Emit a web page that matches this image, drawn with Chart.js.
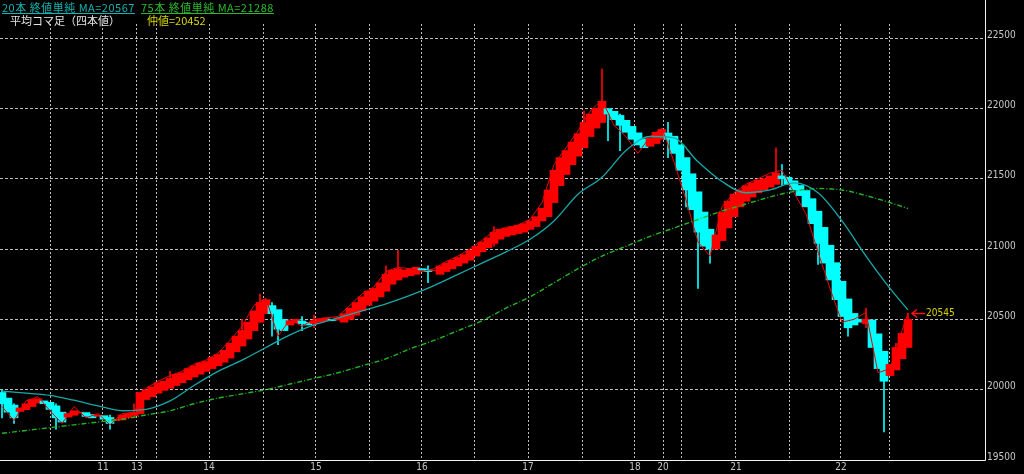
<!DOCTYPE html>
<html>
<head>
<meta charset="utf-8">
<script src="https://cdn.jsdelivr.net/npm/chart.js@4.4.0/dist/chart.umd.min.js"></script>
<style>
html, body { margin: 0; padding: 0; background: #000; }
#wrap { position: relative; width: 1024px; height: 474px; overflow: hidden; }
canvas { display: block; }
.hd { position: absolute; font-family: "Noto Sans CJK JP"; font-size: 11px; line-height: 12px; white-space: nowrap; }
</style>
</head>
<body>
<div id="wrap">
  <canvas id="chart" width="1024" height="474"></canvas>
  <div class="hd" id="hdMa20" style="left:2px;top:1px;color:#12b4b4;text-decoration:underline;letter-spacing:0.5px"></div>
  <div class="hd" id="hdMa75" style="left:141px;top:1px;color:#2cba2c;text-decoration:underline;letter-spacing:0.5px"></div>
  <div class="hd" style="left:10px;top:14px;color:#e4e4e4">平均コマ足（四本値）</div>
  <div class="hd" id="hdMid" style="left:147px;top:14px;color:#d8d800"></div>
</div>
<script>
// heikin-ashi bodies, one per bar
var haOpen = [
  19980,19940,19890,19845,19858,19880,19905,19920,19910,19885,
  19840,19805,19818,19834,19837,19823,19811,19815,19802,19781,
  19785,19802,19816,19828,19930,19950,19975,19995,20010,20030,
  20050,20070,20090,20110,20130,20150,20170,20195,20225,20270,
  20310,20360,20420,20480,20540,20598,20569,20500,20460,20475,
  20488,20479,20470,20480,20490,20500,20495,20480,20500,20530,
  20560,20600,20630,20660,20700,20750,20780,20800,20810,20820,
  20860,20855,20847,20820,20840,20860,20880,20900,20920,20950,
  20980,21010,21040,21070,21090,21100,21110,21120,21140,21160,
  21200,21230,21330,21450,21530,21600,21660,21720,21800,21860,
  21900,21998,21979,21950,21915,21872,21826,21783,21730,21750,
  21780,21825,21802,21741,21650,21535,21407,21263,21141,21000,
  21060,21150,21230,21300,21340,21370,21400,21420,21440,21460,
  21520,21510,21485,21452,21416,21358,21269,21154,21027,20903,
  20771,20645,20542,20501,20470,20495,20397,20273,20100,20140,
  20220,20300
];
var haClose = [
  19900,19840,19800,19870,19900,19930,19935,19900,19860,19800,
  19770,19830,19850,19840,19810,19800,19820,19790,19760,19790,
  19820,19830,19840,19980,20000,20020,20050,20060,20080,20110,
  20120,20150,20170,20190,20200,20230,20250,20280,20330,20380,
  20420,20480,20560,20620,20640,20540,20430,20420,20490,20500,
  20470,20460,20490,20500,20510,20490,20510,20540,20580,20620,
  20660,20700,20720,20760,20820,20850,20860,20850,20860,20870,
  20850,20840,20850,20880,20900,20920,20940,20960,20990,21020,
  21050,21080,21120,21140,21150,21160,21170,21180,21200,21230,
  21290,21420,21560,21650,21700,21760,21820,21900,21960,22000,
  22050,21960,21920,21880,21830,21780,21740,21720,21790,21830,
  21850,21780,21680,21560,21420,21280,21120,21020,21000,21100,
  21260,21340,21390,21420,21450,21470,21490,21500,21520,21540,
  21500,21460,21420,21380,21300,21180,21040,20900,20780,20640,
  20520,20440,20460,20480,20500,20300,20150,20060,20180,20300,
  20400,20500
];

// visible wicks (bar index, low, high)
var wickIdx  = [0,2,9,18,22,28,40,43,45,46,50,52,64,66,71,82,97,100,101,103,111,114,116,118,129,130,136,141,144,147,149,151];
var wickLow  = [19800,19760,19720,19720,19800,20040,20320,20480,20380,20320,20420,20440,20720,20780,20760,21020,21740,21900,21770,21700,21650,21300,20720,20900,21480,21450,20890,20380,20440,19700,20150,20450];
var wickHigh = [20000,19900,19900,19820,19900,20130,20500,20680,20620,20560,20520,20530,20880,20990,20880,21160,21980,22280,22000,21960,21900,21600,21200,21100,21720,21600,21100,20560,20580,20100,20330,20545];

// raw close line, every second bar
var closeLine = [
  19880,19780,19920,19950,19850,19760,19880,19800,19830,19750,
  19830,19840,20010,20060,20100,20130,20180,20210,20260,20350,
  20450,20600,20650,20380,20500,20450,20500,20510,20520,20600,
  20680,20730,20840,20870,20860,20840,20860,20910,20950,21000,
  21060,21130,21150,21170,21210,21330,21600,21720,21840,21980,
  22060,21880,21800,21680,21800,21860,21620,21350,21050,20950,
  21300,21400,21460,21500,21540,21560,21400,21250,20980,20720,
  20480,20500,20550,20120,20150,20420
];
var lastPrice = 20545;
var midPrice = 20452;

// moving averages, sampled at these bars
var maIdx = [0,4,8,12,16,20,24,28,32,36,40,44,48,52,56,60,64,68,72,76,80,84,88,92,96,100,104,108,112,116,120,124,128,132,136,140,144,148,151];
var ma20 = [19990,19975,19960,19925,19885,19850,19860,19920,20030,20130,
            20210,20300,20390,20460,20510,20560,20610,20670,20740,20820,
            20900,20980,21070,21200,21390,21510,21700,21800,21790,21620,
            21480,21400,21420,21470,21400,21200,20950,20720,20567];
var ma75 = [19690,19710,19730,19750,19770,19790,19820,19850,19900,19940,
            19970,20000,20040,20080,20120,20170,20220,20290,20350,20420,
            20490,20580,20660,20760,20860,20950,21020,21090,21150,21210,
            21270,21320,21370,21410,21430,21420,21380,21330,21288];

// axis ticks
var yTicks = [19500,20000,20500,21000,21500,22000,22500];
var gridIdx = [8,16.83,22.5,25.83,34.5,43.5,52.33,61.17,70,78.83,87.67,96.67,105.5,110.17,113.33,122.33,131.17,139.83,148];
var dayIdx = [16.83,22.5,34.5,52.33,70,87.67,105.5,110.17,122.33,139.83];
var dayLabels = ['11','13','14','15','16','17','18','20','21','22'];

var UP = '#ff0000', DOWN = '#00ffff';
var NARROW = '"Liberation Sans Narrow", "DejaVu Sans Condensed", "Liberation Sans", sans-serif';

document.getElementById('hdMa20').textContent = '20本 終値単純 MA=' + ma20[ma20.length - 1];
document.getElementById('hdMa75').textContent = '75本 終値単純 MA=' + ma75[ma75.length - 1];
document.getElementById('hdMid').textContent = '仲値=' + midPrice;

var bodies = haOpen.map(function (o, i) { return { x: i, y: [o, haClose[i]] }; });
var wicks = wickIdx.map(function (i, k) { return { x: i, y: [wickLow[k], wickHigh[k]] }; });
var closePts = closeLine.map(function (v, k) { return { x: k * 2, y: v }; });
closePts.push({ x: haClose.length - 1, y: lastPrice });
var ma20Pts = maIdx.map(function (i, k) { return { x: i, y: ma20[k] }; });
var ma75Pts = maIdx.map(function (i, k) { return { x: i, y: ma75[k] }; });

function isUp(i) { return haClose[i] >= haOpen[i]; }

var frame = {
  id: 'frame',
  afterDatasetsDraw: function (chart) {
    var ctx = chart.ctx, a = chart.chartArea;
    var sx = chart.scales.x, sy = chart.scales.y;
    ctx.save();
    ctx.strokeStyle = '#f2f2f2';
    ctx.lineWidth = 1;
    ctx.beginPath();
    ctx.moveTo(Math.round(a.right) + 0.5, 0);
    ctx.lineTo(Math.round(a.right) + 0.5, Math.round(a.bottom) + 0.5);
    ctx.lineTo(0, Math.round(a.bottom) + 0.5);
    ctx.stroke();

    // last price marker
    var x = sx.getPixelForValue(haClose.length - 1);
    var y = Math.round(sy.getPixelForValue(lastPrice)) + 0.5;
    ctx.strokeStyle = '#ff1010';
    ctx.lineWidth = 1.5;
    ctx.beginPath();
    ctx.moveTo(x + 4, y); ctx.lineTo(x + 17, y);
    ctx.moveTo(x + 9, y - 4); ctx.lineTo(x + 4, y); ctx.lineTo(x + 9, y + 4);
    ctx.stroke();
    ctx.fillStyle = '#d8d000';
    ctx.font = '10px ' + NARROW;
    ctx.textBaseline = 'middle';
    ctx.fillText(String(lastPrice), x + 18, y);
    ctx.restore();
  }
};

new Chart(document.getElementById('chart'), {
  type: 'bar',
  data: {
    datasets: [
      {
        label: 'wick', data: wicks, grouped: false, order: 5,
        barThickness: 1,
        backgroundColor: function (c) { return c.raw && isUp(c.raw.x) ? UP : DOWN; }
      },
      {
        label: 'ha', data: bodies, grouped: false, order: 4,
        barThickness: 8,
        backgroundColor: function (c) { return c.raw && isUp(c.raw.x) ? UP : DOWN; }
      },
      {
        type: 'line', label: 'close', data: closePts, order: 3,
        borderColor: '#f00000', borderWidth: 1, pointRadius: 0, tension: 0
      },
      {
        type: 'line', label: 'MA75', data: ma75Pts, order: 2,
        borderColor: '#22b422', borderWidth: 1.4, borderDash: [5, 2, 1, 2],
        pointRadius: 0, cubicInterpolationMode: 'monotone'
      },
      {
        type: 'line', label: 'MA20', data: ma20Pts, order: 1,
        borderColor: '#18a8a8', borderWidth: 1.3, pointRadius: 0,
        cubicInterpolationMode: 'monotone'
      }
    ]
  },
  options: {
    responsive: false,
    animation: false,
    devicePixelRatio: 1,
    layout: { padding: { top: 24, left: 0, right: 0, bottom: 0 } },
    plugins: { legend: { display: false }, tooltip: { enabled: false } },
    scales: {
      x: {
        type: 'linear',
        min: -1 / 3,
        max: 983 / 6,
        offset: false,
        afterFit: function (s) { s.height = 14; },
        afterBuildTicks: function (s) { s.ticks = gridIdx.map(function (v) { return { value: v }; }); },
        grid: { color: '#bdbdbd', drawTicks: false, offset: false },
        border: { display: false, dash: [2, 2] },
        ticks: {
          autoSkip: false, maxRotation: 0, padding: 1,
          color: '#c4c4c4',
          font: { family: NARROW, size: 10 },
          callback: function (v) {
            var k = dayIdx.indexOf(v);
            return k >= 0 ? dayLabels[k] : '';
          }
        }
      },
      y: {
        position: 'right',
        min: 19500,
        max: 22600,
        afterFit: function (s) { s.width = 39; },
        afterBuildTicks: function (s) { s.ticks = yTicks.map(function (v) { return { value: v }; }); },
        grid: { color: '#bdbdbd', drawTicks: false },
        border: { display: false, dash: [3, 2] },
        ticks: {
          padding: 2, labelOffset: -3,
          color: '#c8c8c8',
          font: { family: NARROW, size: 10 },
          callback: function (v) { return String(v); }
        }
      }
    }
  },
  plugins: [frame]
});
</script>
</body>
</html>
